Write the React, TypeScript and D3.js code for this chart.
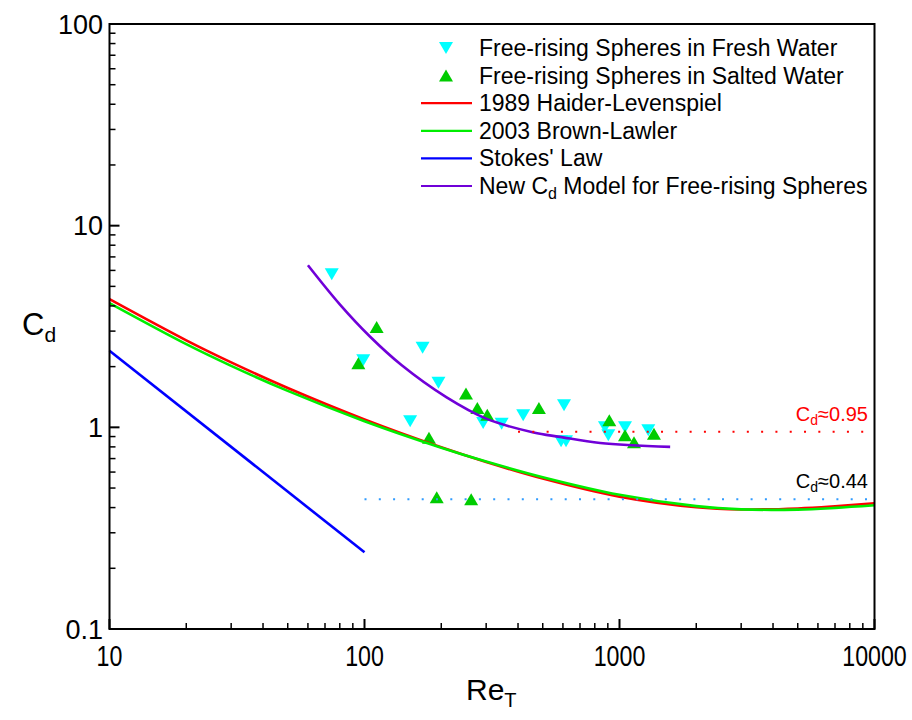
import React from 'react';
import * as d3 from 'd3';

const W = 912;
const H = 720;

const xTickValues = [10, 100, 1000, 10000];
const xTickLabels = ['10', '100', '1000', '10000'];
const yTickValues = [0.1, 1, 10, 100];
const yTickLabels = ['0.1', '1', '10', '100'];

// Free-rising spheres in fresh water (cyan, down triangles)
const freshRe = [74.4, 98.9, 169, 195, 151, 292, 345, 419, 606, 590, 617, 877, 904, 1051, 1297];
const freshCd = [5.74, 2.15, 2.48, 1.666, 1.071, 1.05, 1.043, 1.147, 1.285, 0.852, 0.852, 1.0, 0.913, 1.0, 0.966];

// Free-rising spheres in salted water (green, up triangles)
const saltRe = [94.6, 111.6, 179, 250, 277, 303, 483, 912, 1051, 1140, 1365, 192, 262];
const saltCd = [2.08, 3.14, 0.889, 1.47, 1.246, 1.156, 1.246, 1.083, 0.913, 0.843, 0.93, 0.45, 0.44];

// 1989 Haider-Levenspiel
const hlRe = [10, 20, 30, 50, 100, 200, 300, 500, 1000, 2000, 3000, 5000, 7000, 10000];
const hlCd = [4.32, 2.7, 2.1, 1.568, 1.095, 0.796, 0.673, 0.557, 0.453, 0.4015, 0.3916, 0.3961, 0.406, 0.4204];

// 2003 Brown-Lawler
const blRe = [10, 20, 30, 50, 100, 200, 300, 500, 1000, 2000, 3000, 5000, 7000, 10000];
const blCd = [4.13, 2.585, 2.018, 1.516, 1.073, 0.793, 0.677, 0.566, 0.463, 0.4066, 0.392, 0.391, 0.3985, 0.4106];

// Stokes' law
const stokesRe = [10, 100];
const stokesCd = [2.4, 0.24];

// New Cd model for free-rising spheres
const newRe = [60, 80, 105, 140, 210, 300, 460, 583, 840, 1580];
const newCd = [6.36, 4.07, 2.82, 2.03, 1.407, 1.104, 0.943, 0.897, 0.836, 0.8];

// reference levels
const refCd = [0.95, 0.44];
const refStartRe = [400, 100];
const refEndRe = [10000, 10000];
const refColors = ['#ff0000', '#2f9bff'];
const refLabels = ['0.95', '0.44'];
const refLabelColors = ['#ff0000', '#000000'];

const legendLabels = [
  'Free-rising Spheres in Fresh Water',
  'Free-rising Spheres in Salted Water',
  '1989 Haider-Levenspiel',
  '2003 Brown-Lawler',
  "Stokes' Law",
  'New Cd Model for Free-rising Spheres',
];

const FONT = 'Arial, "Liberation Sans", Helvetica, sans-serif';

const x = d3.scaleLog().domain([10, 10000]).range([109.5, 874.5]);
const y = d3.scaleLog().domain([0.1, 100]).range([629, 24]);

function linePath(res: number[], cds: number[]) {
  const pts = res.map((r, i) => [r, cds[i]] as [number, number]);
  return d3
    .line<[number, number]>()
    .x((d) => x(d[0]))
    .y((d) => y(d[1]))
    .curve(d3.curveCatmullRom.alpha(0.5))(pts) as string;
}

function triDown(cx: number, cy: number) {
  return `M${cx - 7},${cy - 6}L${cx + 7},${cy - 6}L${cx},${cy + 6}Z`;
}
function triUp(cx: number, cy: number) {
  return `M${cx - 7},${cy + 6}L${cx + 7},${cy + 6}L${cx},${cy - 6}Z`;
}

export default function App() {
  const minorX: number[] = [];
  for (let d = 10; d < 10000; d *= 10) for (let k = 2; k <= 9; k++) minorX.push(d * k);
  const minorY: number[] = [];
  for (let d = 0.1; d < 99; d *= 10) for (let k = 2; k <= 9; k++) minorY.push(d * k);

  const x0 = x.range()[0];
  const x1 = x.range()[1];
  const y0 = y.range()[0];
  const y1 = y.range()[1];

  const curves = [
    { re: hlRe, cd: hlCd, color: '#ff0000' },
    { re: blRe, cd: blCd, color: '#00ee00' },
    { re: stokesRe, cd: stokesCd, color: '#0000ff' },
    { re: newRe, cd: newCd, color: '#7000d8' },
  ];

  const legX = 421;
  const legY0 = 48;
  const legDy = 27.6;

  return (
    <svg
      width={W}
      height={H}
      style={{ position: 'absolute', left: 0, top: 0, background: '#fff' }}
      fontFamily={FONT}
    >
      <rect x={0} y={0} width={W} height={H} fill="#fff" />

      {/* markers */}
      {freshRe.map((r, i) => (
        <path key={'f' + i} d={triDown(x(r), y(freshCd[i]))} fill="#00ffff" />
      ))}
      {saltRe.map((r, i) => (
        <path key={'s' + i} d={triUp(x(r), y(saltCd[i]))} fill="#00cc00" />
      ))}

      {/* model curves */}
      {curves.map((c, i) => (
        <path key={'c' + i} d={linePath(c.re, c.cd)} fill="none" stroke={c.color} strokeWidth={2.6} />
      ))}

      {/* reference dotted lines */}
      {refCd.map((v, i) => (
        <line
          key={'r' + i}
          x1={x(refStartRe[i])}
          x2={x(refEndRe[i])}
          y1={y(v)}
          y2={y(v)}
          stroke={refColors[i]}
          strokeWidth={2}
          strokeDasharray="2 12.3"
        />
      ))}
      {refCd.map((v, i) => (
        <text
          key={'rt' + i}
          x={868}
          y={y(v) - 11}
          textAnchor="end"
          fontSize={20}
          fill={refLabelColors[i]}
        >
          C<tspan fontSize={14} dy={4}>d</tspan>
          <tspan dy={-4}>≈{refLabels[i]}</tspan>
        </text>
      ))}

      {/* frame */}
      <rect x={x0} y={y1} width={x1 - x0} height={y0 - y1} fill="none" stroke="#000" strokeWidth={2} />

      {/* x ticks */}
      {xTickValues.map((v) => (
        <line key={'xm' + v} x1={x(v)} x2={x(v)} y1={y0} y2={y0 - 10} stroke="#000" strokeWidth={2} />
      ))}
      {minorX.map((v) => (
        <line key={'xn' + v} x1={x(v)} x2={x(v)} y1={y0} y2={y0 - 6} stroke="#000" strokeWidth={1.5} />
      ))}
      {xTickValues.map((v, i) => (
        <text
          key={'xl' + v}
          transform={`translate(${x(v)},${y0 + 37}) scale(0.8,1)`}
          textAnchor="middle"
          fontSize={29}
        >
          {xTickLabels[i]}
        </text>
      ))}

      {/* y ticks */}
      {yTickValues.map((v) => (
        <line key={'ym' + v} x1={x0} x2={x0 + 10} y1={y(v)} y2={y(v)} stroke="#000" strokeWidth={2} />
      ))}
      {minorY.map((v) => (
        <line key={'yn' + v} x1={x0} x2={x0 + 6} y1={y(v)} y2={y(v)} stroke="#000" strokeWidth={1.5} />
      ))}
      {yTickValues.map((v, i) => (
        <text key={'yl' + v} x={103} y={y(v) + 9.5} textAnchor="end" fontSize={27}>
          {yTickLabels[i]}
        </text>
      ))}

      {/* axis titles */}
      <text x={22} y={335} fontSize={31}>
        C<tspan fontSize={21} dy={7}>d</tspan>
      </text>
      <text x={466} y={700} fontSize={30}>
        Re<tspan fontSize={20} dy={7}>T</tspan>
      </text>

      {/* legend */}
      <g>
        <path d={triDown(legX + 25, legY0)} fill="#00ffff" />
        <path d={triUp(legX + 25, legY0 + legDy)} fill="#00cc00" />
        {curves.map((c, i) => (
          <line
            key={'ll' + i}
            x1={legX}
            x2={legX + 51}
            y1={legY0 + legDy * (i + 2)}
            y2={legY0 + legDy * (i + 2)}
            stroke={c.color}
            strokeWidth={2.2}
          />
        ))}
        {legendLabels.map((t, i) => {
          const ty = legY0 + legDy * i + 8;
          if (i === 5) {
            return (
              <text key={'lt' + i} x={479} y={ty} fontSize={23}>
                New C<tspan fontSize={16} dy={5}>d</tspan>
                <tspan dy={-5}> Model for Free-rising Spheres</tspan>
              </text>
            );
          }
          return (
            <text key={'lt' + i} x={479} y={ty} fontSize={23}>
              {t}
            </text>
          );
        })}
      </g>
    </svg>
  );
}
